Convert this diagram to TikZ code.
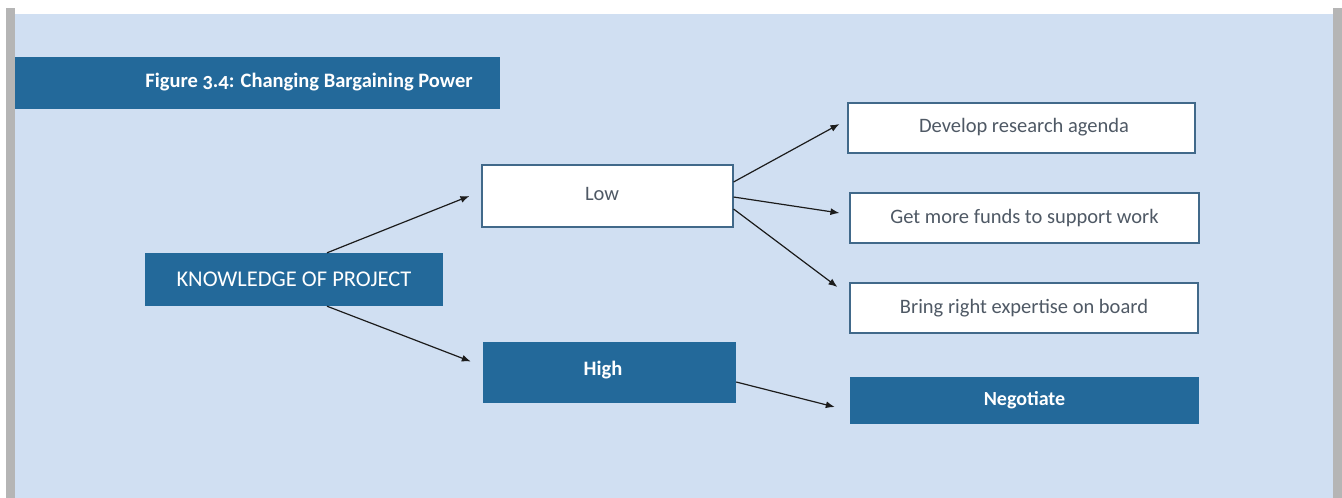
\documentclass[tikz,border=0pt]{standalone}
\usepackage{fontspec}
\setmainfont{Carlito}[Numbers=OldStyle]
\usetikzlibrary{arrows.meta}
\definecolor{panel}{HTML}{D0DFF2}
\definecolor{frame}{HTML}{B5B5B5}
\definecolor{deep}{HTML}{23699A}
\definecolor{edge}{HTML}{41698A}
\definecolor{ink}{HTML}{4F5965}
\definecolor{arrowink}{HTML}{1C1C1C}
\tikzset{
  darkbox/.style={rectangle, fill=deep, text=white, inner sep=0pt, font=\fontsize{20.5}{24}\selectfont},
  lightbox/.style={rectangle, fill=white, draw=edge, line width=1.1pt, text=ink, inner sep=0pt, font=\fontsize{20.5}{24}\selectfont},
  link/.style={draw=arrowink, line width=1.2pt, -{Latex[length=9pt,width=7pt]}}
}
\begin{document}
\begin{tikzpicture}[x=1pt, y=-1pt]
  % page, side rules and panel
  \fill[white] (0,0) rectangle (1342,498);
  \fill[frame] (6,8) rectangle (15,498);
  \fill[frame] (1333,8) rectangle (1342,498);
  \fill[panel] (15,14) rectangle (1333,498);
  \useasboundingbox (0,0) rectangle (1342,498);

  % title bar
  \node[darkbox, minimum width=485pt, minimum height=52pt] (title) at (257.5,83) {};
  \node[text=white, font=\fontsize{20.5}{24}\selectfont\bfseries] (titletext) at (309,82) {Figure 3.4: Changing Bargaining Power};

  % boxes
  \node[darkbox, minimum width=298pt, minimum height=53pt, font=\fontsize{22.5}{26}\selectfont] (know) at (294,279.5) {KNOWLEDGE OF PROJECT};
  \node[lightbox, minimum width=251pt, minimum height=62pt] (low) at (607.5,196) {};
  \node[text=ink, font=\fontsize{20.5}{24}\selectfont] (lowtext) at (602,193.5) {Low};
  \node[darkbox, minimum width=253pt, minimum height=61pt] (high) at (609.5,372.5) {};
  \node[text=white, font=\fontsize{20.5}{24}\selectfont\bfseries] (hightext) at (603,370.5) {High};

  \node[lightbox, minimum width=347pt, minimum height=50pt] (dev) at (1021.5,128) {};
  \node[text=ink, font=\fontsize{20.5}{24}\selectfont] (devtext) at (1024,127.5) {Develop research agenda};
  \node[lightbox, minimum width=349pt, minimum height=50pt] (get) at (1024.5,218) {Get more funds to support work};
  \node[lightbox, minimum width=348pt, minimum height=50pt] (bring) at (1024,308) {Bring right expertise on board};
  \node[darkbox, minimum width=349pt, minimum height=47pt, font=\fontsize{20}{24}\selectfont\bfseries] (neg) at (1024.5,400.5) {Negotiate};

  % connectors
  \draw[link] ([xshift=33pt]know.north) -- ([xshift=-12pt]low.west);
  \draw[link] ([xshift=33pt]know.south) -- ([xshift=-12pt,yshift=11pt]high.west);
  \draw[link] ([yshift=14pt]low.east) -- ([xshift=-8pt,yshift=4pt]dev.west);
  \draw[link] ([yshift=-1pt]low.east) -- ([xshift=-10pt,yshift=5pt]get.west);
  \draw[link] ([yshift=-13pt]low.east) -- ([xshift=-12pt,yshift=21pt]bring.west);
  \draw[link] ([yshift=-9.5pt]high.east) -- ([xshift=-15pt,yshift=-6.5pt]neg.west);
\end{tikzpicture}
\end{document}
